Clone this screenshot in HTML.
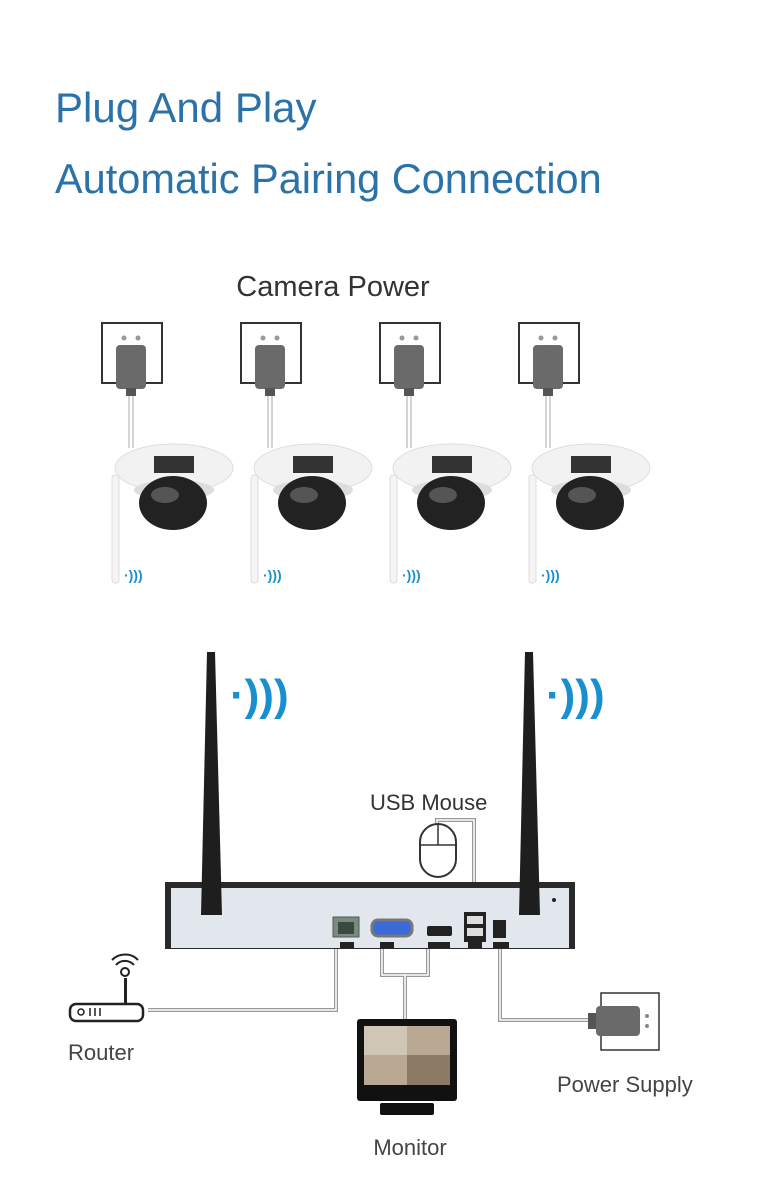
<!DOCTYPE html><html><head><style>body{margin:0;background:#fff}svg{display:block}</style></head><body>
<svg width="758" height="1200" viewBox="0 0 758 1200" xmlns="http://www.w3.org/2000/svg" font-family="Liberation Sans, sans-serif">
<defs>
<g id="cam">
<rect x="102" y="323" width="60" height="60" fill="none" stroke="#333" stroke-width="2"/>
<circle cx="124" cy="338" r="2.5" fill="#999"/><circle cx="138" cy="338" r="2.5" fill="#999"/>
<rect x="116" y="345" width="30" height="44" rx="4" fill="#6a6a6a"/>
<rect x="126" y="388" width="10" height="8" fill="#555"/>
<line x1="129" y1="396" x2="129" y2="448" stroke="#aaa" stroke-width="1"/>
<line x1="133" y1="396" x2="133" y2="448" stroke="#aaa" stroke-width="1"/>
<rect x="112" y="475" width="7" height="108" rx="3" fill="#f4f4f4" stroke="#ddd"/>
<ellipse cx="174" cy="468" rx="59" ry="24" fill="#f2f2f2" stroke="#ddd"/>
<rect x="154" y="456" width="40" height="17" fill="#333"/>
<ellipse cx="174" cy="490" rx="40" ry="10" fill="#ddd"/>
<ellipse cx="173" cy="503" rx="34" ry="27" fill="#222"/>
<ellipse cx="165" cy="495" rx="14" ry="8" fill="#555"/>
<text x="124" y="580" font-size="14" fill="#1a8fd0" font-weight="bold">·)))</text>
</g>
</defs>
<text x="55" y="122" font-size="42" fill="#2a72a8">Plug And Play</text>
<text x="55" y="193" font-size="41.5" fill="#2a72a8">Automatic Pairing Connection</text>
<text x="333" y="296" font-size="29" fill="#333" text-anchor="middle">Camera Power</text>
<use href="#cam"/><use href="#cam" x="139"/><use href="#cam" x="278"/><use href="#cam" x="417"/>
<g fill="none" stroke="#999" stroke-width="4"><path d="M336 940 V1010 H148"/><path d="M382 940 V975 H428 V940 M405 975 V1022"/><path d="M500 945 V1020 H592"/><path d="M437 826 V820 H474 V912"/></g>
<g fill="none" stroke="#fff" stroke-width="1.5"><path d="M336 940 V1010 H148"/><path d="M382 940 V975 H428 V940 M405 975 V1022"/><path d="M500 945 V1020 H592"/><path d="M437 826 V820 H474 V912"/></g>
<rect x="165" y="882" width="410" height="67" fill="#2a2a2a"/>
<rect x="171" y="888" width="398" height="60" fill="#e2e7ee"/>
<path d="M207 652 h8 l7 263 h-21 z" fill="#1e1e1e"/>
<path d="M525 652 h8 l7 263 h-21 z" fill="#1e1e1e"/>
<rect x="333" y="917" width="26" height="20" fill="#7a8a80" stroke="#555"/>
<rect x="338" y="922" width="16" height="12" fill="#3a4a40"/>
<rect x="372" y="920" width="40" height="16" rx="6" fill="#3a6ad8" stroke="#777" stroke-width="3"/>
<rect x="427" y="926" width="25" height="10" rx="2" fill="#222"/>
<rect x="464" y="912" width="22" height="30" fill="#222"/>
<rect x="467" y="916" width="16" height="8" fill="#ddd"/><rect x="467" y="928" width="16" height="8" fill="#ddd"/>
<rect x="493" y="920" width="13" height="18" fill="#222"/>
<g fill="#222"><rect x="340" y="942" width="14" height="6"/><rect x="380" y="942" width="14" height="6"/><rect x="428" y="942" width="22" height="6"/><rect x="468" y="942" width="14" height="6"/><rect x="493" y="942" width="16" height="6"/></g>
<circle cx="554" cy="900" r="2" fill="#222"/>
<text x="230" y="710" font-size="44" fill="#1a8fd0" font-weight="bold">·)))</text>
<text x="546" y="710" font-size="44" fill="#1a8fd0" font-weight="bold">·)))</text>
<text x="370" y="810" font-size="22" fill="#333">USB Mouse</text>
<rect x="420" y="824" width="36" height="53" rx="18" fill="#fff" stroke="#333" stroke-width="2"/>
<line x1="420" y1="845" x2="456" y2="845" stroke="#333" stroke-width="1.5"/>
<line x1="438" y1="824" x2="438" y2="845" stroke="#333" stroke-width="1.5"/>
<rect x="70" y="1004" width="73" height="17" rx="6" fill="#fff" stroke="#222" stroke-width="2.5"/>
<circle cx="81" cy="1012" r="3" fill="none" stroke="#222" stroke-width="1.5"/>
<path d="M90 1008v8M95 1008v8M100 1008v8" stroke="#222" stroke-width="1.5"/>
<rect x="124" y="978" width="3" height="26" fill="#222"/>
<circle cx="125" cy="972" r="4" fill="none" stroke="#222" stroke-width="2"/>
<path d="M116 965 a12 12 0 0 1 18 0 M112 960 a18 18 0 0 1 26 0" fill="none" stroke="#222" stroke-width="2"/>
<text x="68" y="1060" font-size="22" fill="#444">Router</text>
<rect x="357" y="1019" width="100" height="82" rx="3" fill="#111"/>
<rect x="364" y="1026" width="86" height="59" fill="#b9a894"/>
<rect x="364" y="1026" width="43" height="29" fill="#cfc6b6"/><rect x="407" y="1055" width="43" height="30" fill="#8c7a66"/>
<rect x="380" y="1103" width="54" height="12" rx="2" fill="#111"/>
<text x="410" y="1155" font-size="22" fill="#444" text-anchor="middle">Monitor</text>
<rect x="601" y="993" width="58" height="57" fill="none" stroke="#333" stroke-width="1.5"/>
<rect x="588" y="1013" width="10" height="16" fill="#555"/>
<rect x="596" y="1006" width="44" height="30" rx="4" fill="#6a6a6a"/>
<circle cx="647" cy="1016" r="2" fill="#888"/><circle cx="647" cy="1026" r="2" fill="#888"/>
<text x="557" y="1092" font-size="22" fill="#444">Power Supply</text>
</svg></body></html>
